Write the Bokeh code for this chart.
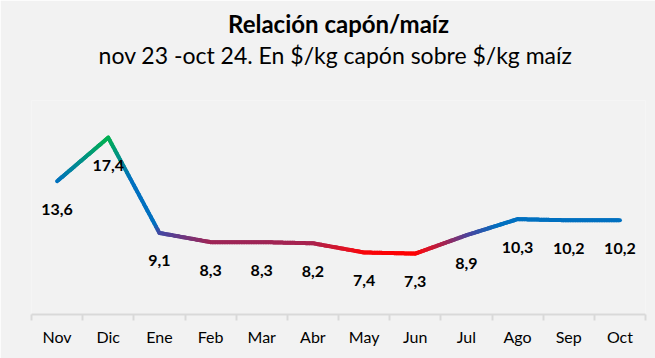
import numpy as np
from bokeh.plotting import figure
from bokeh.models import Title, FixedTicker, ColumnDataSource, Range1d
from bokeh.core.properties import value
from bokeh.embed import file_html
from bokeh.resources import INLINE

months = ["Nov", "Dic", "Ene", "Feb", "Mar", "Abr", "May", "Jun", "Jul", "Ago", "Sep", "Oct"]
ratio = [13.6, 17.4, 9.1, 8.3, 8.3, 8.2, 7.4, 7.3, 8.9, 10.3, 10.2, 10.2]
labels = ["13,6", "17,4", "9,1", "8,3", "8,3", "8,2", "7,4", "7,3", "8,9", "10,3", "10,2", "10,2"]
title_text = "Relación capón/maíz"
subtitle_text = "nov  23 -oct 24. En $/kg capón sobre $/kg maíz"

# vertical colour gradient stops (value -> colour)
stop_vals = [7.3, 7.6, 8.3, 9.0, 9.8, 13.6, 17.4]
stop_cols = ["#FF0000", "#E8101E", "#9E2556", "#4A449E", "#0070C0", "#0070C0", "#00B050"]

FONT = "Lato"


def hex2rgb(h):
    return np.array([int(h[i:i + 2], 16) for i in (1, 3, 5)], dtype=float)


stop_rgb = np.array([hex2rgb(c) for c in stop_cols])


def colour_for(v):
    rgb = [np.interp(v, stop_vals, stop_rgb[:, k]) for k in range(3)]
    return "#%02x%02x%02x" % tuple(int(round(c)) for c in rgb)


xs_idx = list(range(len(months)))

# split each straight segment into short pieces so the stroke can carry a gradient
x0s, y0s, x1s, y1s, cols = [], [], [], [], []
n = 30
for i in range(len(ratio) - 1):
    for k in range(n):
        t0, t1 = k / n, (k + 1) / n
        xa = xs_idx[i] + (xs_idx[i + 1] - xs_idx[i]) * t0
        xb = xs_idx[i] + (xs_idx[i + 1] - xs_idx[i]) * t1
        ya = ratio[i] + (ratio[i + 1] - ratio[i]) * t0
        yb = ratio[i] + (ratio[i + 1] - ratio[i]) * t1
        x0s.append(xa); x1s.append(xb); y0s.append(ya); y1s.append(yb)
        cols.append(colour_for((ya + yb) / 2))

p = figure(width=655, height=358, output_backend="svg", toolbar_location=None,
           x_range=Range1d(-0.5, 11.5), y_range=Range1d(2.0, 20.63),
           min_border_left=31, min_border_right=10, min_border_bottom=44, min_border_top=100)
p.background_fill_color = "#F2F2F2"
p.border_fill_color = "#F2F2F2"
p.outline_line_color = None
p.grid.visible = False
p.yaxis.visible = False

p.segment(x0=x0s, y0=y0s, x1=x1s, y1=y1s, line_color=cols, line_width=4, line_cap="round")

src = ColumnDataSource(dict(x=xs_idx, y=ratio, t=labels))
p.text(x="x", y="y", text="t", source=src, y_offset=28, text_align="center",
       text_baseline="middle", text_font=value(FONT), text_font_style="bold",
       text_font_size="16px", text_color="#000000")

ax = p.xaxis[0]
ax.ticker = FixedTicker(ticks=xs_idx, minor_ticks=[i - 0.5 for i in range(len(months) + 1)])
ax.major_label_overrides = {i: m for i, m in enumerate(months)}
ax.axis_line_color = "#D9D9D9"
ax.axis_line_width = 2
ax.major_tick_line_color = None
ax.minor_tick_line_color = "#D9D9D9"
ax.minor_tick_line_width = 2
ax.minor_tick_out = 6
ax.minor_tick_in = 0
ax.major_label_standoff = 6
ax.major_label_text_font = FONT
ax.major_label_text_font_size = "16px"
ax.major_label_text_color = "#000000"

spacer = Title(text=" ", text_font_size="1px", standoff=29)
sub = Title(text=subtitle_text, align="center", text_font=FONT, text_font_size="23px",
            text_font_style="normal", text_color="#000000", standoff=0)
main = Title(text=title_text, align="center", text_font=FONT, text_font_size="24px",
             text_font_style="bold", text_color="#000000", standoff=1)
p.add_layout(spacer, "above")
p.add_layout(sub, "above")
p.add_layout(main, "above")

open("out.html", "w").write(file_html(p, INLINE))
